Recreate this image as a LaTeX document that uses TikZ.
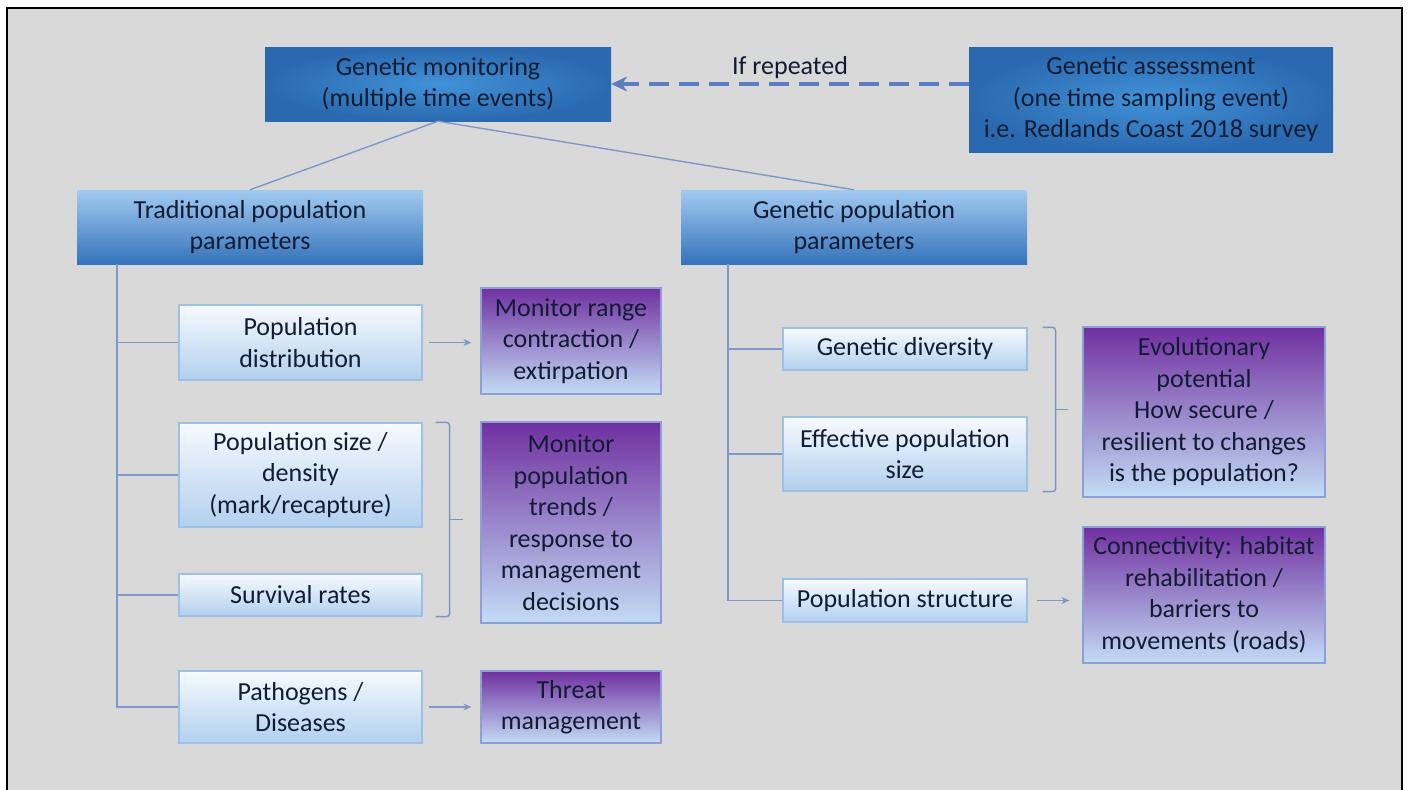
\documentclass[tikz,border=0pt]{standalone}
\usepackage{fontspec}
\setmainfont{Carlito}
\usetikzlibrary{calc,arrows.meta}

\definecolor{panelgray}{HTML}{D9D9D9}
\definecolor{ink}{HTML}{111C33}
\definecolor{headin}{HTML}{4292D8}
\definecolor{headout}{HTML}{2A69AF}
\definecolor{partop}{HTML}{A2CAF1}
\definecolor{parbot}{HTML}{3573BB}
\definecolor{itemtop}{HTML}{F6FAFE}
\definecolor{itembot}{HTML}{B2D0EE}
\definecolor{itemedge}{HTML}{9EBFE6}
\definecolor{goaltop}{HTML}{7030A0}
\definecolor{goalbot}{HTML}{C3DCF5}
\definecolor{goaledge}{HTML}{8E9ED6}
\definecolor{linkblue}{HTML}{7F97CA}
\definecolor{dashblue}{HTML}{5B7EC2}

\begin{document}
\begin{tikzpicture}[x=1pt,y=-1pt,>={Stealth[length=8pt,width=7pt]},
  every node/.style={font=\fontsize{26}{31.5}\selectfont,text=ink,align=center,inner sep=2pt},
  head/.style={rectangle,inner color=headin,outer color=headout},
  param/.style={rectangle,top color=partop,bottom color=parbot,minimum width=346pt,minimum height=74pt},
  item/.style={rectangle,draw=itemedge,line width=1.2pt,top color=itemtop,bottom color=itembot,minimum width=243pt},
  goal/.style={rectangle,draw=goaledge,line width=1.2pt,top color=goaltop,bottom color=goalbot,minimum width=#1},
  goal/.default=180pt,
  link/.style={draw=linkblue,line width=1.4pt},
  brace/.style={draw=linkblue!85!gray,line width=1.4pt,rounded corners=3pt}]
\fill[white] (0,0) rectangle (1409,790);
\useasboundingbox (0,0) rectangle (1409,790);
\draw[fill=panelgray,line width=2.4pt] (7,8) rectangle (1402,800);

\node[head,minimum width=346pt,minimum height=74pt] (mon) at (438,84) {Genetic monitoring\\(multiple time events)};
\node[head,minimum width=364pt,minimum height=105pt] (assess) at (1151,99.5) {Genetic assessment\\(one time sampling event)\\i.e. Redlands Coast 2018 survey};
\node[param] (trad) at (250,227) {Traditional population\\parameters};
\node[param] (gen) at (854,227) {Genetic population\\parameters};

\node[item,minimum height=75pt] (dist) at (300.5,342.5) {Population\\distribution};
\node[item,minimum height=104pt] (size) at (300.5,475) {Population size /\\density\\(mark/recapture)};
\node[item,minimum height=42pt] (surv) at (300.5,595) {Survival rates};
\node[item,minimum height=72pt] (path) at (300.5,707) {Pathogens /\\Diseases};
\node[goal,minimum height=106pt] (range) at (571,341) {Monitor range\\contraction /\\extirpation};
\node[goal,minimum height=201pt] (trend) at (571,522.5) {Monitor\\population\\trends /\\response to\\management\\decisions};
\node[goal,minimum height=72pt] (threat) at (571,707) {Threat\\management};

\node[item,minimum width=244pt,minimum height=42pt] (div) at (905,349) {Genetic diversity};
\node[item,minimum width=244pt,minimum height=74pt] (eff) at (905,454) {Effective population\\size};
\node[item,minimum width=244pt,minimum height=43pt] (struct) at (905,600.5) {Population structure};
\node[goal=242pt,minimum height=170pt] (evo) at (1204,412) {Evolutionary\\potential\\How secure /\\resilient to changes\\is the population?};
\node[goal=242pt,minimum height=136pt] (conn) at (1204,595) {Connectivity: habitat\\rehabilitation /\\barriers to\\movements (roads)};

\draw[-{Stealth[length=16pt,width=15pt]},draw=dashblue,line width=3.2pt,dash pattern=on 20pt off 10pt] (assess.west |- mon.east) -- node[midway,above=4pt,inner sep=0pt] (rep) {If repeated} (mon.east);
\draw[link] (mon.south) -- (trad.north);
\draw[link] (mon.south) -- (gen.north);

\coordinate (ltrunk) at ([xshift=40pt]trad.south west);
\draw[link] (ltrunk) |- (path.west);
\foreach \b in {dist,size,surv} \draw[link] (\b.west) -- (\b.west -| ltrunk);
\coordinate (rtrunk) at ([xshift=47pt]gen.south west);
\draw[link] (rtrunk) |- (struct.west);
\foreach \b in {div,eff} \draw[link] (\b.west) -- (\b.west -| rtrunk);

\draw[link,line width=1.8pt,->,shorten <=6pt,shorten >=9pt] (dist.east) -- (range.west |- dist.east);
\draw[link,line width=1.8pt,->,shorten <=6pt,shorten >=9pt] (path.east) -- (threat.west |- path.east);
\draw[link,line width=1.8pt,->,shorten <=9pt,shorten >=13pt] (struct.east) -- (conn.west |- struct.east);

\draw[brace] ([xshift=13pt]size.north east) -- ([xshift=27pt]size.north east) -- ([xshift=27pt]surv.south east) -- ([xshift=13pt]surv.south east);
\draw[brace] ($([xshift=27pt]size.north east)!.5!([xshift=27pt]surv.south east)$) -- ++(13,0);
\draw[brace] ([xshift=15pt]div.north east) -- ([xshift=28pt]div.north east) -- ([xshift=28pt]eff.south east) -- ([xshift=15pt]eff.south east);
\draw[brace] ($([xshift=28pt]div.north east)!.5!([xshift=28pt]eff.south east)$) -- ++(12,0);
\end{tikzpicture}
\end{document}
